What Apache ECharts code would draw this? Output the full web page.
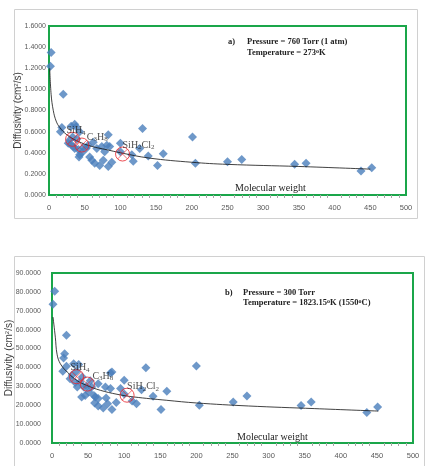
<!DOCTYPE html>
<html>
<head>
<meta charset="utf-8">
<script src="https://cdn.jsdelivr.net/npm/echarts@6/dist/echarts.min.js"></script>
<style>
html,body{margin:0;padding:0;background:#fff;}
#main{width:430px;height:466px;}
</style>
</head>
<body>
<div id="main"></div>
<script>
// panel a) 760 Torr, 273K
var ptsA=[[2,1.22],[3,1.35],[20,0.955],[18,0.64],[16,0.60],[36,0.67],[31,0.65],[38,0.645],[43,0.60],[29,0.52],[27,0.49],
    [34,0.46],[41,0.43],[46,0.40],[43,0.38],[42,0.36],[57,0.36],[60,0.33],[64,0.30],[71,0.28],[76,0.33],[78,0.41],[74,0.46],
    [81,0.47],[83,0.57],[85,0.46],[83,0.27],[88,0.31],[62,0.50],[67,0.44],[100,0.49],[100,0.41],[116,0.38],[118,0.32],
    [127,0.44],[131,0.63],[139,0.37],[152,0.28],[160,0.39],[201,0.55],[205,0.30],[250,0.315],[270,0.337],[344,0.29],
    [360,0.30],[437,0.227],[452,0.258],[33,0.55],[39,0.53],[48,0.45],[52,0.44],[55,0.47],[30,0.48],[36,0.44]]
var fitA=[[1,1.2],[3,0.95],[6,0.8],[10,0.7],[15,0.64],[25,0.57],[40,0.51],[60,0.46],[80,0.43],[100,0.40],[140,0.35],
    [200,0.31],[250,0.29],[350,0.27],[450,0.245]]
var gasA=[[33,0.527],[46,0.473],[103,0.388]]

// panel b) 300 Torr, 1823.15K
var ptsB=[[1.4,73.4],[3.7,80.3],[20,57],[17.5,47.3],[16,45],[15,38],[20,40.6],[30,42],[37,41.5],[25,34],[32,32],[35,29.6],
    [41,24.4],[46,25.2],[44,29.6],[39,32.3],[51,27],[55,29.6],[58,25.2],[60,24.4],[59,21.2],[64,19.6],[64,23.5],[64,31.4],
    [74,29.6],[75,23.8],[77,20.8],[71,18.5],[81,37],[83,37.6],[81,28.8],[83,17.8],[89,21.5],[95,28.8],[100,33.2],[100,26],
    [111,22.2],[117,20.8],[124,28.2],[130,39.8],[140,24.7],[151,17.8],[159,27.4],[200,40.8],[204,20],[251,21.7],[270,24.9],
    [345,19.9],[359,21.7],[436,16.1],[451,19.1],[28,36],[34,38],[42,35],[48,30],[53,33]]
var fitB=[[1.4,66.7],[4.6,56],[7,47],[11.5,42],[21,37.6],[35,33],[48,30.5],[67,27.9],[90,25.8],[113,24.4],[159,22.6],
    [200,21.2],[272,19.6],[364,18.2],[452,16.9]]
var gasB=[[34,35.1],[49,31.2],[104,25.3]]

var gasNames=['SiH{s|4}','C{s|3}H{s|8}','SiH{s|2}Cl{s|2}']
var labelOffsets=[[-6,-9],[5,-8],[0,-9]]

var green='#1aa64a', blue='#4a7ebb', red='#e8232a'
var cross='path://M0,0L10,10M10,0L0,10'
var noteFont='bold 8.5px "Liberation Serif"', supFont='bold 6px "Liberation Serif"'

function xAxisOf(idx){
    return {gridIndex:idx,type:'value',min:0,max:500,interval:50,
        axisLine:{show:false},
        axisTick:{show:false},
        minorTick:{show:true,splitNumber:5,length:3,lineStyle:{color:'#a6a6a6'}},
        axisLabel:{fontSize:7.5,color:'#595959',fontFamily:'Liberation Sans',margin:9},
        splitLine:{show:false}}
}
function yAxisOf(idx,max,step){
    return {gridIndex:idx,type:'value',min:0,max:max,interval:step,
        name:'Diffusivity (cm{sup|2}/s)',nameLocation:'middle',nameGap:idx==0?26:38,nameMoveOverlap:false,
        nameTextStyle:{fontSize:10,color:'#404040',fontFamily:'Liberation Sans',
            rich:{sup:{fontSize:6,verticalAlign:'top',color:'#404040'}}},
        axisLine:{show:false},axisTick:{show:false},
        axisLabel:{fontSize:7,color:'#595959',fontFamily:'Liberation Sans',margin:idx==0?3:11,
            formatter:function(v){return v.toFixed(4)}},
        splitLine:{show:false}}
}
function marks(idx,pts,fit,gas){
    return [
        {type:'scatter',xAxisIndex:idx,yAxisIndex:idx,symbol:'diamond',symbolSize:9,data:pts,itemStyle:{color:blue}},
        {type:'line',xAxisIndex:idx,yAxisIndex:idx,data:fit,smooth:0.4,symbol:'none',lineStyle:{color:'#111',width:0.8},z:3},
        {type:'scatter',xAxisIndex:idx,yAxisIndex:idx,symbol:'circle',symbolSize:14,data:gas,z:4,
            itemStyle:{color:'rgba(255,255,255,0)',borderColor:red,borderWidth:1}},
        {type:'scatter',xAxisIndex:idx,yAxisIndex:idx,symbol:cross,symbolSize:10,data:gas,z:4,
            itemStyle:{color:'none',borderColor:red,borderWidth:0.8}},
        {type:'scatter',xAxisIndex:idx,yAxisIndex:idx,symbolSize:1,silent:true,z:6,
            itemStyle:{color:'rgba(0,0,0,0)'},
            data:gas.map(function(d,i){return {value:d,label:{offset:labelOffsets[i]}}}),
            label:{show:true,position:'inside',formatter:function(p){return gasNames[p.dataIndex]},
                color:'#222',fontFamily:'Liberation Serif',fontSize:10,align:'left',
                rich:{s:{fontSize:7,verticalAlign:'bottom',fontFamily:'Liberation Serif',color:'#222',padding:[5,0,0,0]}}}}
    ]
}

var myChart=echarts.init(document.getElementById('main'))
var option={
    animation:false,
    grid:[
        {left:49,top:26,right:24,bottom:271,outerBoundsMode:'none',show:true,borderColor:green,borderWidth:2,backgroundColor:'#fff'},
        {left:52,top:273,right:17,bottom:23,outerBoundsMode:'none',show:true,borderColor:green,borderWidth:2,backgroundColor:'#fff'}
    ],
    xAxis:[xAxisOf(0),xAxisOf(1)],
    yAxis:[yAxisOf(0,1.6,0.2),yAxisOf(1,90,10)],
    graphic:[
        {type:'rect',shape:{x:14.5,y:9.5,width:403,height:209},style:{fill:'none',stroke:'#d0d0d0',lineWidth:1},z:-10},
        {type:'rect',shape:{x:14.5,y:256.5,width:410,height:220},style:{fill:'none',stroke:'#d0d0d0',lineWidth:1},z:-10},
        {type:'text',left:228,top:37,style:{text:'a)',font:noteFont,fill:'#222'}},
        {type:'text',left:247,top:37,style:{text:'Pressure = 760 Torr (1 atm)',font:noteFont,fill:'#222'}},
        {type:'text',left:247,top:48,style:{text:'Temperature = 273{sup|o}K',font:noteFont,fill:'#222',
            rich:{sup:{font:supFont,verticalAlign:'top',fill:'#222'}}}},
        {type:'text',left:225,top:288,style:{text:'b)',font:noteFont,fill:'#222'}},
        {type:'text',left:243,top:288,style:{text:'Pressure = 300 Torr',font:noteFont,fill:'#222'}},
        {type:'text',left:243,top:298,style:{text:'Temperature = 1823.15{sup|o}K (1550{sup|o}C)',font:noteFont,fill:'#222',
            rich:{sup:{font:supFont,verticalAlign:'top',fill:'#222'}}}},
        {type:'text',left:235,top:183,style:{text:'Molecular weight',font:'10px "Liberation Serif"',fill:'#222'}},
        {type:'text',left:237,top:432,style:{text:'Molecular weight',font:'10px "Liberation Serif"',fill:'#222'}}
    ],
    series:marks(0,ptsA,fitA,gasA).concat(marks(1,ptsB,fitB,gasB))
}
myChart.setOption(option)
</script>
</body>
</html>
